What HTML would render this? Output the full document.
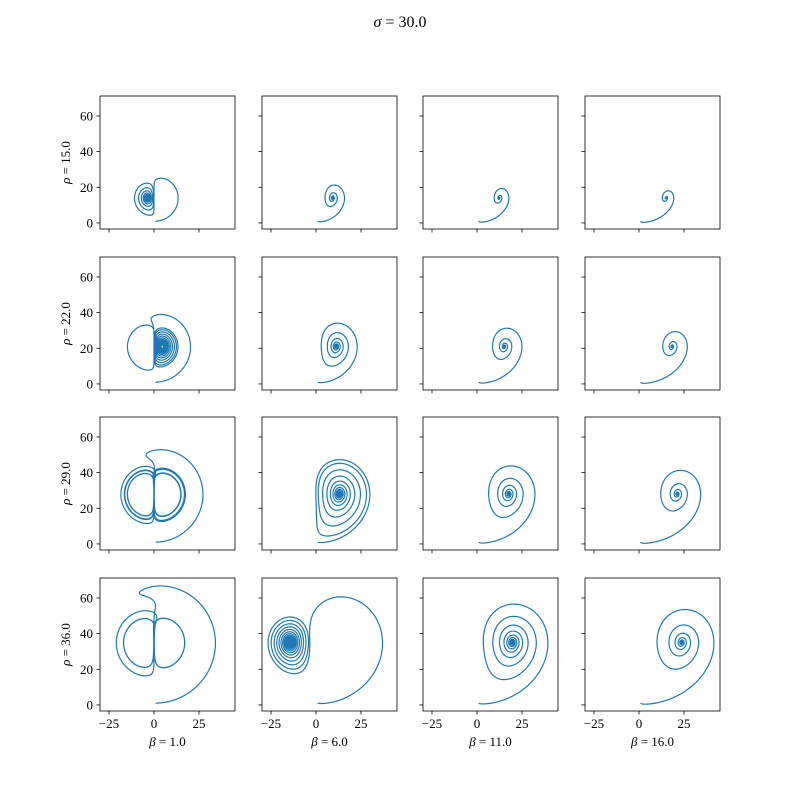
<!DOCTYPE html>
<html><head><meta charset="utf-8"><style>
body{margin:0;background:#fff;}
svg text{font-family:"Liberation Serif","DejaVu Serif",serif;fill:#000;}
</style></head><body>
<svg id="s" xmlns="http://www.w3.org/2000/svg" width="800" height="800" viewBox="0 0 800 800"></svg>
<script>
const svg=document.getElementById('s');
let out='<rect width="800" height="800" fill="#fff"/>';
out+='<text x="400" y="27" font-size="16" text-anchor="middle"><tspan font-style="italic">σ</tspan> = 30.0</text>';
const cols=[[100,235],[262,397],[423,558],[585,720]];
const rows=[[96,229],[257,390],[417,550],[578,711]];
const betas=[1,6,11,16], rhos=[15,22,29,36];
const xl=[-30,45], yl=[-3.4,71.2];
const sigma=30;
function traj(rho,beta){
  let x=0,y=1,z=1.05,dt=0.001,N=20000;
  const f=(x,y,z)=>[sigma*(y-x),x*(rho-z)-y,x*y-beta*z];
  const pts=[[y,z]];
  for(let i=0;i<N;i++){
    const k1=f(x,y,z);
    const k2=f(x+dt/2*k1[0],y+dt/2*k1[1],z+dt/2*k1[2]);
    const k3=f(x+dt/2*k2[0],y+dt/2*k2[1],z+dt/2*k2[2]);
    const k4=f(x+dt*k3[0],y+dt*k3[1],z+dt*k3[2]);
    x+=dt/6*(k1[0]+2*k2[0]+2*k3[0]+k4[0]);
    y+=dt/6*(k1[1]+2*k2[1]+2*k3[1]+k4[1]);
    z+=dt/6*(k1[2]+2*k2[2]+2*k3[2]+k4[2]);
    if(i%2==0)pts.push([y,z]);
  }
  return pts;
}
for(let r=0;r<4;r++)for(let c=0;c<4;c++){
  const [x0,x1]=cols[c],[y0,y1]=rows[r];
  const sx=v=>x0+(v-xl[0])/(xl[1]-xl[0])*(x1-x0);
  const sy=v=>y1-(v-yl[0])/(yl[1]-yl[0])*(y1-y0);
  const p=traj(rhos[r],betas[c]);
  out+=`<clipPath id="c${r}${c}"><rect x="${x0}" y="${y0}" width="${x1-x0}" height="${y1-y0}"/></clipPath>`;
  out+=`<path clip-path="url(#c${r}${c})" fill="none" stroke="#1f77b4" stroke-width="1.2" d="M${p.map(q=>sx(q[0]).toFixed(2)+','+sy(q[1]).toFixed(2)).join('L')}"/>`;
  out+=`<rect x="${x0}" y="${y0}" width="${x1-x0}" height="${y1-y0}" fill="none" stroke="#000" stroke-width="0.8"/>`;
  for(const t of [-25,0,25]){
    const X=sx(t);
    out+=`<line x1="${X}" y1="${y1}" x2="${X}" y2="${y1+3.5}" stroke="#000" stroke-width="0.8"/>`;
    if(r==3)out+=`<text x="${X}" y="${y1+17}" font-size="13" text-anchor="middle">${t<0?'−'+(-t):t}</text>`;
  }
  for(const t of [0,20,40,60]){
    const Y=sy(t);
    out+=`<line x1="${x0}" y1="${Y}" x2="${x0-3.5}" y2="${Y}" stroke="#000" stroke-width="0.8"/>`;
    if(c==0)out+=`<text x="${x0-7}" y="${Y+4.5}" font-size="13" text-anchor="end">${t}</text>`;
  }
  if(r==3)out+=`<text x="${(x0+x1)/2}" y="${y1+35}" font-size="13" text-anchor="middle"><tspan font-style="italic">β</tspan> = ${betas[c].toFixed(1)}</text>`;
  if(c==0)out+=`<text transform="translate(70,${(y0+y1)/2}) rotate(-90)" font-size="13" text-anchor="middle"><tspan font-style="italic">ρ</tspan> = ${rhos[r].toFixed(1)}</text>`;
}
svg.innerHTML=out;
</script>
</body></html>
